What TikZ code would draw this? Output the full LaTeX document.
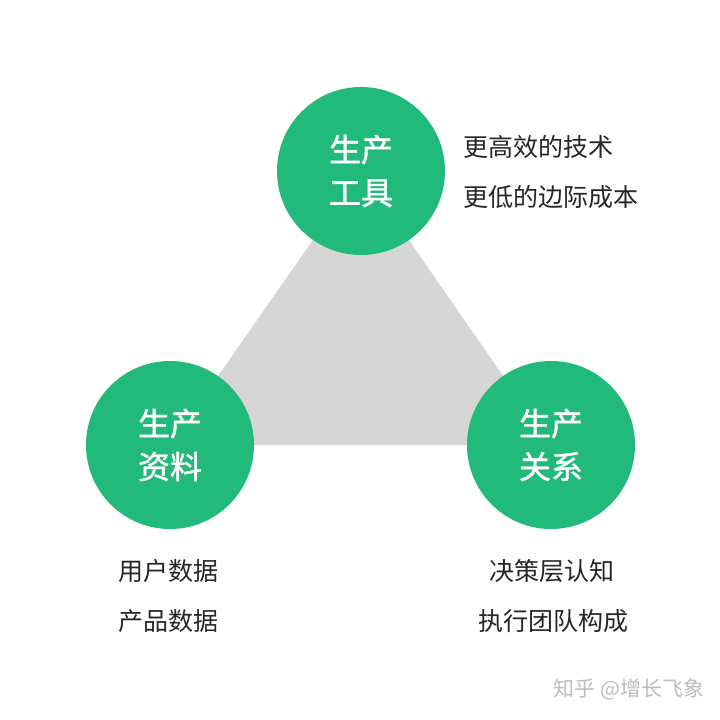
\documentclass[tikz,border=0pt]{standalone}
\usepackage{fontspec}
\setmainfont{Noto Sans CJK SC}
\newfontfamily\hubfont[FakeBold=1.2]{Noto Sans CJK SC}
\definecolor{hubgreen}{HTML}{22BA7B}
\definecolor{trigray}{HTML}{D6D6D6}
\definecolor{notegray}{HTML}{262626}
\definecolor{markgray}{HTML}{BDBDBD}
\begin{document}
\begin{tikzpicture}[x=1pt,y=-1pt,
  hub/.style={circle, fill=hubgreen, minimum size=168pt, inner sep=0pt, text=white,
    font=\hubfont\fontsize{32}{43}\selectfont, align=center},
  note/.style={text=notegray, font=\fontsize{25}{25}\selectfont, inner sep=0pt}]
\useasboundingbox (0,0) rectangle (720,720);
\fill[white] (0,0) rectangle (720,720);
\coordinate (ct) at (361,171);
\coordinate (cl) at (170,445);
\coordinate (cr) at (551,445);
\fill[trigray] (ct) -- (cl) -- (cr) -- cycle;
\node[hub] (tool) at (ct) {生产\\工具};
\node[hub] (data) at (cl) {生产\\资料};
\node[hub] (rel) at (cr) {生产\\关系};
\node[note, anchor=west] (t1) at (463,147) {更高效的技术};
\node[note, anchor=west] (t2) at (463,197) {更低的边际成本};
\node[note] (d1) at (168,571) {用户数据};
\node[note] (d2) at (168,621) {产品数据};
\node[note] (r1) at (552,571) {决策层认知};
\node[note] (r2) at (553,621) {执行团队构成};
\node[text=markgray, font=\fontsize{21}{21}\selectfont, inner sep=0pt] (wm) at (629,689) {知乎 @增长飞象};
\end{tikzpicture}
\end{document}
